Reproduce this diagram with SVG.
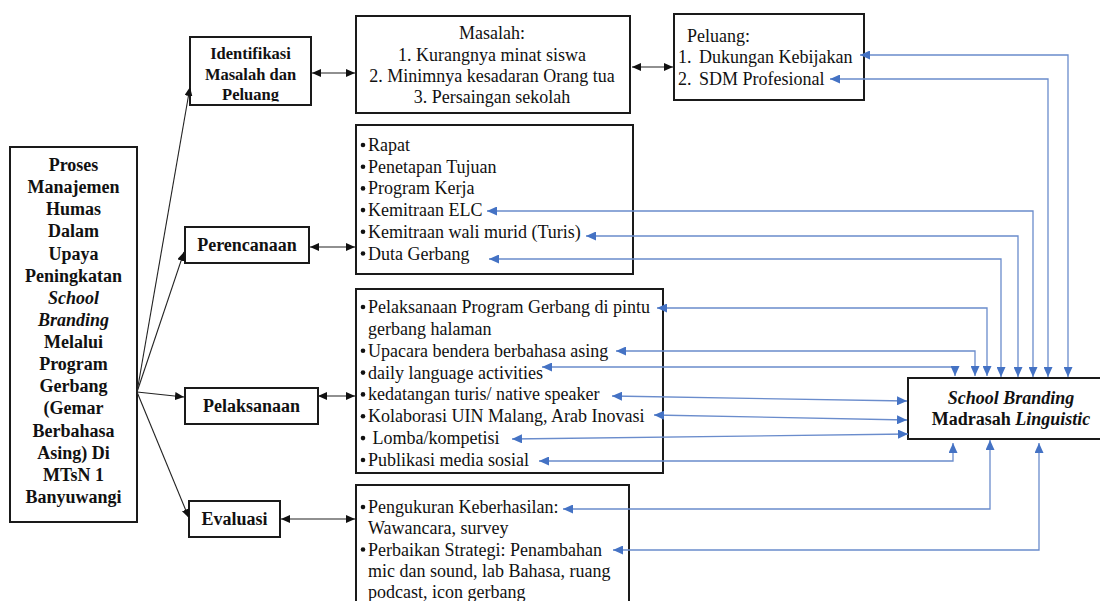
<svg xmlns="http://www.w3.org/2000/svg" width="1100" height="601" viewBox="0 0 1100 601">
<style>
.box{fill:#fff;stroke:#1a1a1a;stroke-width:2}
.t{font-family:"Liberation Serif","Times New Roman",serif;font-size:18px;fill:#111}
.b{font-weight:bold}
.i{font-style:italic}
.c{text-anchor:middle}
.blk{fill:none;stroke:#222;stroke-width:1.1}
.blu{fill:none;stroke:#6a8ccc;stroke-width:1.3}
.dot{fill:#111}
</style>
<defs>
<marker id="ak" viewBox="0 0 10 10" refX="10" refY="5" markerWidth="9" markerHeight="8" markerUnits="userSpaceOnUse" orient="auto-start-reverse" preserveAspectRatio="none"><path d="M0,0 L10,5 L0,10 z" fill="#111"/></marker>
<marker id="ab" viewBox="0 0 10 10" refX="10" refY="5" markerWidth="10" markerHeight="9" markerUnits="userSpaceOnUse" orient="auto-start-reverse" preserveAspectRatio="none"><path d="M0,0 L10,5 L0,10 z" fill="#4472c4"/></marker>
<clipPath id="clipId"><rect x="190" y="37" width="121" height="64.5"/></clipPath>
</defs>

<g id="main">
<rect class="box" x="10" y="147" width="127" height="375"/>
<text class="t b c" x="73.5" y="171">Proses</text>
<text class="t b c" x="73.5" y="193.1">Manajemen</text>
<text class="t b c" x="73.5" y="215.3">Humas</text>
<text class="t b c" x="73.5" y="237.4">Dalam</text>
<text class="t b c" x="73.5" y="259.5">Upaya</text>
<text class="t b c" x="73.5" y="281.7">Peningkatan</text>
<text class="t b i c" x="73.5" y="303.8">School</text>
<text class="t b i c" x="73.5" y="325.9">Branding</text>
<text class="t b c" x="73.5" y="348">Melalui</text>
<text class="t b c" x="73.5" y="370.2">Program</text>
<text class="t b c" x="73.5" y="392.3">Gerbang</text>
<text class="t b c" x="73.5" y="414.4">(Gemar</text>
<text class="t b c" x="73.5" y="436.6">Berbahasa</text>
<text class="t b c" x="73.5" y="458.7">Asing) Di</text>
<text class="t b c" x="73.5" y="480.8">MTsN 1</text>
<text class="t b c" x="73.5" y="503">Banyuwangi</text>
</g>

<g id="identifikasi">
<rect class="box" x="190" y="37" width="121" height="68"/>
<g clip-path="url(#clipId)">
<text class="t b c" style="font-size:16.5px" x="250.5" y="59">Identifikasi</text>
<text class="t b c" style="font-size:16.5px" x="250.5" y="79.5">Masalah dan</text>
<text class="t b c" style="font-size:16.5px" x="250.5" y="100">Peluang</text>
</g>
</g>

<g id="perencanaan">
<rect class="box" x="185" y="227" width="124" height="36"/>
<text class="t b c" x="247" y="250.5">Perencanaan</text>
</g>

<g id="pelaksanaan">
<rect class="box" x="185" y="388" width="133" height="36"/>
<text class="t b c" x="251.5" y="412">Pelaksanaan</text>
</g>

<g id="evaluasi">
<rect class="box" x="189" y="501" width="91" height="36"/>
<text class="t b c" x="234.5" y="525">Evaluasi</text>
</g>

<g id="masalah">
<rect class="box" x="356" y="16" width="274" height="97"/>
<text class="t c" x="492" y="39">Masalah:</text>
<text class="t c" x="492" y="61">1. Kurangnya minat siswa</text>
<text class="t c" x="492" y="82">2. Minimnya kesadaran Orang tua</text>
<text class="t c" x="492" y="103">3. Persaingan sekolah</text>
</g>

<g id="peluang">
<rect class="box" x="674" y="14" width="190" height="86"/>
<text class="t" x="687" y="42">Peluang:</text>
<text class="t" x="678" y="63">1.</text>
<text class="t" x="699" y="63">Dukungan Kebijakan</text>
<text class="t" x="678" y="85">2.</text>
<text class="t" x="699" y="85">SDM Profesional</text>
</g>

<g id="perencanaan-list">
<rect class="box" x="356" y="125" width="277" height="149"/>
<circle class="dot" cx="363" cy="145" r="2.3"/>
<text class="t" x="368" y="151">Rapat</text>
<circle class="dot" cx="363" cy="166.7" r="2.3"/>
<text class="t" x="368" y="172.7">Penetapan Tujuan</text>
<circle class="dot" cx="363" cy="188.4" r="2.3"/>
<text class="t" x="368" y="194.4">Program Kerja</text>
<circle class="dot" cx="363" cy="210.1" r="2.3"/>
<text class="t" x="368" y="216.1">Kemitraan ELC</text>
<circle class="dot" cx="363" cy="231.8" r="2.3"/>
<text class="t" x="368" y="237.8">Kemitraan wali murid (Turis)</text>
<circle class="dot" cx="363" cy="253.5" r="2.3"/>
<text class="t" x="368" y="259.5">Duta Gerbang</text>
</g>

<g id="pelaksanaan-list">
<rect class="box" x="356" y="289" width="307" height="184"/>
<circle class="dot" cx="363" cy="307" r="2.3"/>
<text class="t" x="368" y="313">Pelaksanaan Program Gerbang di pintu</text>
<text class="t" x="368" y="334.9">gerbang halaman</text>
<circle class="dot" cx="363" cy="350.7" r="2.3"/>
<text class="t" x="368" y="356.7">Upacara bendera berbahasa asing</text>
<circle class="dot" cx="363" cy="372.6" r="2.3"/>
<text class="t" x="368" y="378.6">daily language activities</text>
<circle class="dot" cx="363" cy="394.4" r="2.3"/>
<text class="t" x="368" y="400.4">kedatangan turis/ native speaker</text>
<circle class="dot" cx="363" cy="416.3" r="2.3"/>
<text class="t" x="368" y="422.3">Kolaborasi UIN Malang, Arab Inovasi</text>
<circle class="dot" cx="363" cy="438.1" r="2.3"/>
<text class="t" x="368" y="444.1" xml:space="preserve"> Lomba/kompetisi</text>
<circle class="dot" cx="363" cy="460" r="2.3"/>
<text class="t" x="368" y="466">Publikasi media sosial</text>
</g>

<g id="evaluasi-list">
<rect class="box" x="356" y="485" width="273" height="125"/>
<circle class="dot" cx="363" cy="507" r="2.3"/>
<text class="t" x="368" y="513">Pengukuran Keberhasilan:</text>
<text class="t" x="368" y="534.3">Wawancara, survey</text>
<circle class="dot" cx="363" cy="549.5" r="2.3"/>
<text class="t" x="368" y="555.5">Perbaikan Strategi: Penambahan</text>
<text class="t" x="368" y="576.8">mic dan sound, lab Bahasa, ruang</text>
<text class="t" x="368" y="598">podcast, icon gerbang</text>
</g>

<g id="school-branding">
<rect class="box" x="908" y="378" width="210" height="61"/>
<text class="t b i c" x="1011" y="404">School Branding</text>
<text class="t b c" x="1011" y="425">Madrasah <tspan class="i">Linguistic</tspan></text>
</g>

<g id="connectors">
<line class="blk" x1="137" y1="392" x2="190" y2="87" marker-end="url(#ak)"/>
<line class="blk" x1="137" y1="392" x2="184" y2="252" marker-end="url(#ak)"/>
<line class="blk" x1="137" y1="392" x2="184" y2="397" marker-end="url(#ak)"/>
<line class="blk" x1="137" y1="392" x2="189" y2="518" marker-end="url(#ak)"/>
<line class="blk" x1="312" y1="73" x2="355" y2="73" marker-start="url(#ak)" marker-end="url(#ak)"/>
<line class="blk" x1="632" y1="67" x2="673" y2="67" marker-start="url(#ak)" marker-end="url(#ak)"/>
<line class="blk" x1="310" y1="247" x2="355" y2="247" marker-start="url(#ak)" marker-end="url(#ak)"/>
<line class="blk" x1="318" y1="396" x2="355" y2="396" marker-start="url(#ak)" marker-end="url(#ak)"/>
<line class="blk" x1="281" y1="519" x2="355" y2="519" marker-start="url(#ak)" marker-end="url(#ak)"/>
<path class="blu" d="M860,55 H1068 V377" marker-start="url(#ab)" marker-end="url(#ab)"/>
<path class="blu" d="M830,79 H1048 V377" marker-start="url(#ab)" marker-end="url(#ab)"/>
<path class="blu" d="M487,211 H1033 V377" marker-start="url(#ab)" marker-end="url(#ab)"/>
<path class="blu" d="M586,236 H1018 V377" marker-start="url(#ab)" marker-end="url(#ab)"/>
<path class="blu" d="M489,259 H1001 V377" marker-start="url(#ab)" marker-end="url(#ab)"/>
<path class="blu" d="M657,308 H987 V376" marker-start="url(#ab)" marker-end="url(#ab)"/>
<path class="blu" d="M616,351 H975 V376" marker-start="url(#ab)" marker-end="url(#ab)"/>
<path class="blu" d="M542,367 H955 V376" marker-start="url(#ab)" marker-end="url(#ab)"/>
<path class="blu" d="M612,396 L907,401" marker-start="url(#ab)" marker-end="url(#ab)"/>
<path class="blu" d="M654,415 L907,420" marker-start="url(#ab)" marker-end="url(#ab)"/>
<path class="blu" d="M512,439 L908,434" marker-start="url(#ab)" marker-end="url(#ab)"/>
<path class="blu" d="M539,461 H953 V443" marker-start="url(#ab)" marker-end="url(#ab)"/>
<path class="blu" d="M563,509 H990 V440" marker-start="url(#ab)" marker-end="url(#ab)"/>
<path class="blu" d="M613,550 H1039 V443" marker-start="url(#ab)" marker-end="url(#ab)"/>
</g>
</svg>
